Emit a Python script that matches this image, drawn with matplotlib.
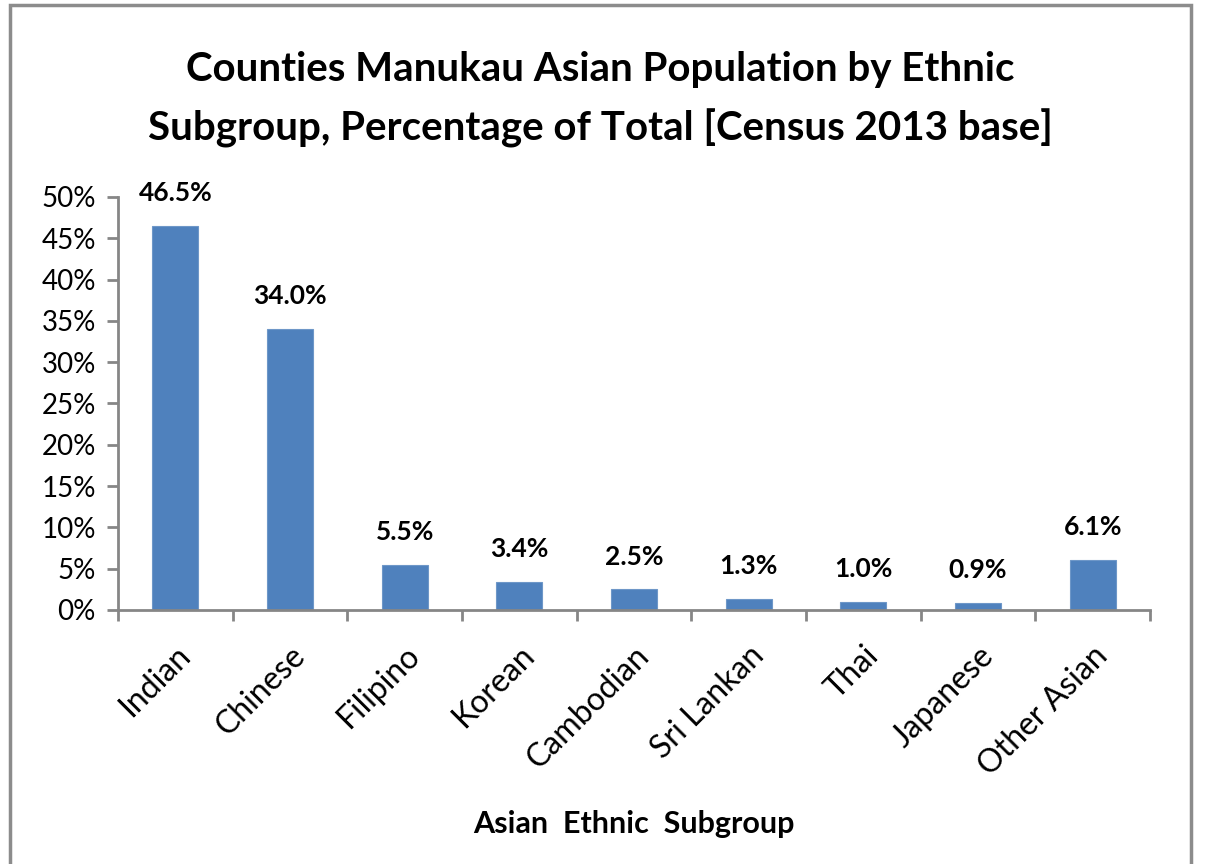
import matplotlib.pyplot as plt
from matplotlib.patches import Rectangle
from matplotlib.ticker import PercentFormatter

# datos
grupos = ['Indian', 'Chinese', 'Filipino', 'Korean', 'Cambodian',
          'Sri Lankan', 'Thai', 'Japanese', 'Other Asian']
porcentajes = [46.5, 34.0, 5.5, 3.4, 2.5, 1.3, 1.0, 0.9, 6.1]
ticks_y = [0, 5, 10, 15, 20, 25, 30, 35, 40, 45, 50]

plt.rcParams['font.family'] = ['Lato', 'DejaVu Sans']

fig = plt.figure(figsize=(12.06, 8.64), dpi=100)
ax = fig.add_axes([0.0978, 0.294, 0.8558, 0.478])

gris = '#868686'
x = range(len(grupos))
ax.bar(x, porcentajes, width=0.4, color='#4F81BD', edgecolor='#6E97C8', linewidth=0.8)

for xi, v in zip(x, porcentajes):
    ax.annotate(f'{v:.1f}%', (xi, v), xytext=(0, 15), textcoords='offset points',
                ha='center', va='bottom', fontsize=19, fontweight='bold')

ax.set_xlim(-0.5, len(grupos) - 0.5)
ax.set_ylim(0, 50)
ax.set_yticks(ticks_y)
ax.yaxis.set_major_formatter(PercentFormatter(decimals=0))
ax.set_xticks([i - 0.5 for i in range(len(grupos) + 1)])
ax.set_xticklabels([])
ax.set_xticks(list(x), minor=True)
ax.set_xticklabels(grupos, minor=True, rotation=45, ha='right',
                   rotation_mode='anchor', fontsize=23)
ax.tick_params(axis='x', which='minor', length=0, pad=22)
ax.tick_params(axis='x', which='major', length=8, width=2, color=gris)
ax.tick_params(axis='y', length=8, width=2, color=gris, labelsize=20, pad=8)

for lado in ['top', 'right']:
    ax.spines[lado].set_visible(False)
for lado in ['left', 'bottom']:
    ax.spines[lado].set_color(gris)
    ax.spines[lado].set_linewidth(2)

ax.set_xlabel('Asian  Ethnic  Subgroup', fontsize=22, fontweight='bold')
ax.xaxis.set_label_coords(0.5, -0.485)

fig.text(0.498, 0.885, 'Counties Manukau Asian Population by Ethnic\nSubgroup, Percentage of Total [Census 2013 base]',
         ha='center', va='center', fontsize=29, fontweight='bold', linespacing=1.65)

# marco del área del gráfico
fig.patches.append(Rectangle((10 / 1206, -0.02), 1181 / 1206, 1.014,
                             transform=fig.transFigure, fill=False,
                             edgecolor='#8C8C8C', linewidth=2.5))

fig.savefig('out.png', dpi=100)
